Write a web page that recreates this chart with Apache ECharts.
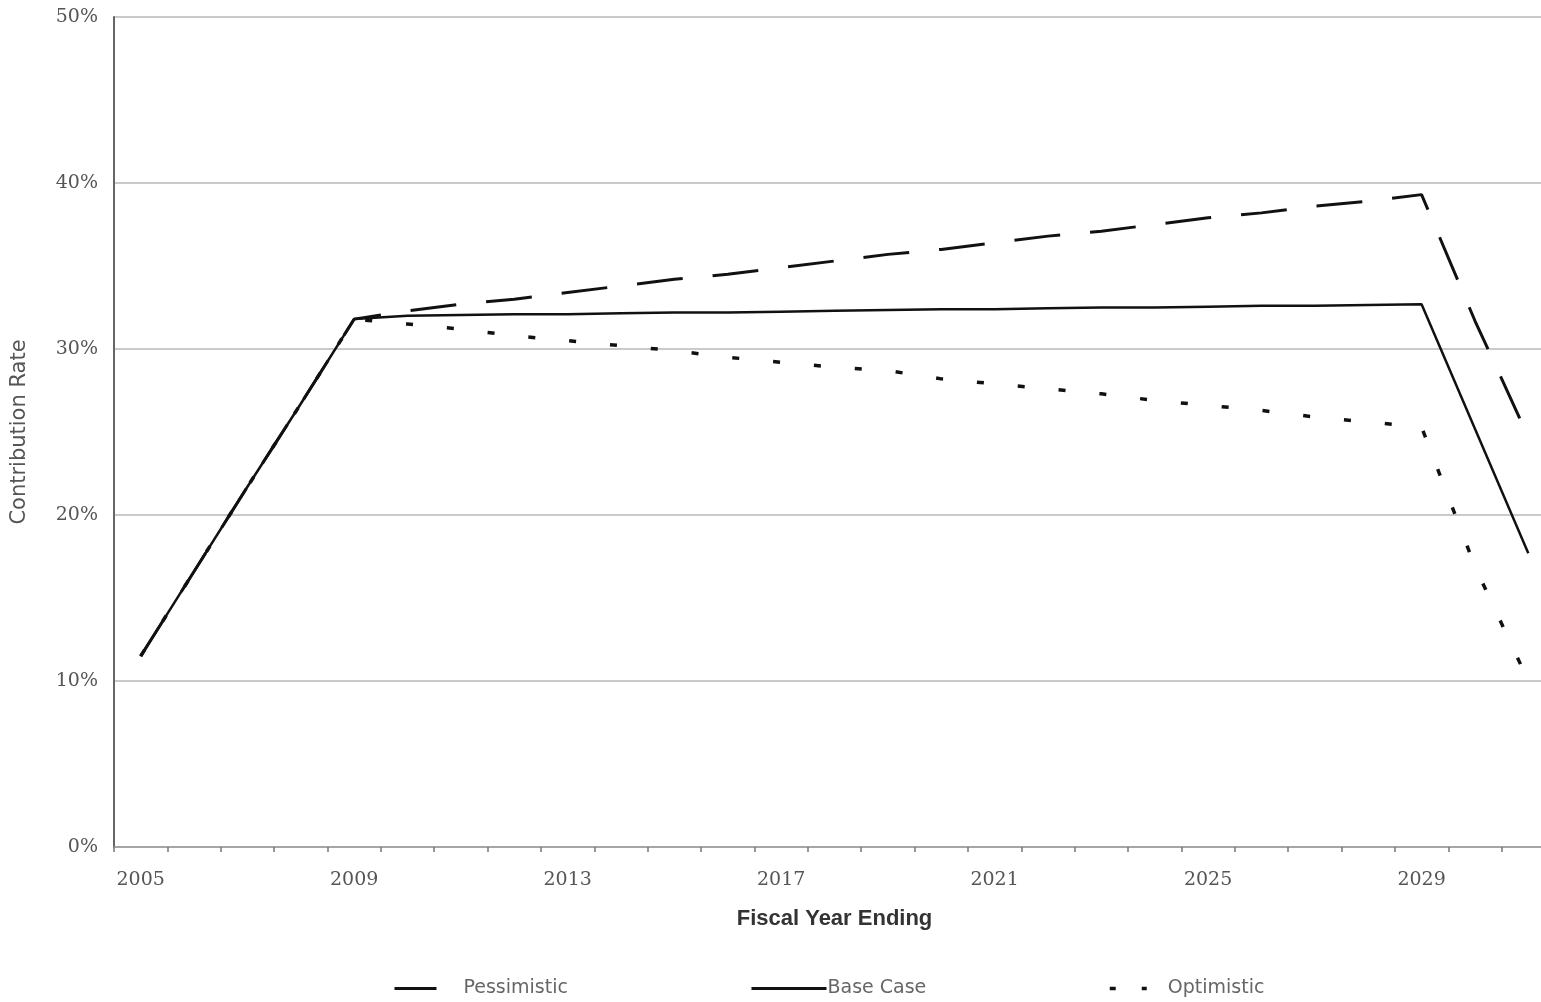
<!DOCTYPE html>
<html>
<head>
<meta charset="utf-8">
<script src="https://cdn.jsdelivr.net/npm/echarts@6/dist/echarts.min.js"></script>
<style>
html,body{margin:0;padding:0;background:#fff;}
#chart{width:1541px;height:1002px;}
</style>
</head>
<body>
<div id="chart"></div>
<script>
var years = ['2005','2006','2007','2008','2009','2010','2011','2012','2013','2014','2015','2016','2017','2018','2019','2020','2021','2022','2023','2024','2025','2026','2027','2028','2029','2030','2031'];
var pessimistic = [11.5,16.6,21.7,26.7,31.8,32.3,32.7,33.0,33.4,33.8,34.2,34.5,34.9,35.3,35.7,36.0,36.4,36.8,37.1,37.5,37.9,38.2,38.6,38.9,39.3,31.7,24.7];
var baseCase    = [11.5,16.6,21.7,26.7,31.8,32.0,32.05,32.1,32.1,32.15,32.2,32.2,32.25,32.3,32.35,32.4,32.4,32.45,32.5,32.5,32.55,32.6,32.6,32.65,32.7,25.2,17.7];
var optimistic  = [11.5,16.6,21.7,26.7,31.8,31.5,31.2,30.8,30.5,30.2,29.9,29.5,29.2,28.9,28.7,28.2,27.9,27.6,27.3,26.9,26.6,26.3,25.9,25.6,25.3,16.9,10.0];
var yTicks = [0,10,20,30,40,50];

var chart = echarts.init(document.getElementById('chart'));
var labelFont = {fontFamily:'DejaVu Serif', fontSize:19, color:'#555'};
var legendText = {fontFamily:'DejaVu Sans', fontSize:19, color:'#666'};
var hideSym = {opacity:0, color:'#111'};
chart.setOption({
  backgroundColor:'#ffffff',
  animation:false,
  grid:{left:114, right:-14, top:17, bottom:155, containLabel:false, outerBoundsMode:'none'},
  legend:[
    {data:['Pessimistic'], left:388, top:974, itemWidth:42, itemHeight:14, itemStyle:hideSym,
     lineStyle:{width:3, type:'solid'}, textStyle:Object.assign({padding:[0,0,0,22]}, legendText)},
    {data:['Base Case'], left:745, top:974, itemWidth:75, itemHeight:14, itemStyle:hideSym,
     lineStyle:{width:3}, textStyle:Object.assign({padding:[0,0,0,-4]}, legendText)},
    {data:['Optimistic'], left:1103, top:974, itemWidth:37, itemHeight:14, itemStyle:hideSym,
     lineStyle:{width:3.5, type:[6,26]}, textStyle:Object.assign({padding:[0,0,0,16]}, legendText)}
  ],
  xAxis:{
    type:'category', data:years, boundaryGap:true,
    name:'Fiscal Year Ending', nameLocation:'middle', nameGap:61,
    nameTextStyle:{fontFamily:'Liberation Sans', fontWeight:'bold', fontSize:22, color:'#333'},
    axisLine:{lineStyle:{color:'#999', width:1.5}},
    axisTick:{show:true, interval:0, length:5, lineStyle:{color:'#777', width:1.5}},
    axisLabel:Object.assign({interval:3, margin:24}, labelFont),
    splitLine:{show:false}
  },
  yAxis:{
    type:'value', min:yTicks[0], max:yTicks[yTicks.length-1], interval:10,
    name:'Contribution Rate', nameLocation:'middle', nameGap:84, nameRotate:90,
    nameTextStyle:{fontFamily:'DejaVu Sans', fontSize:21, color:'#555'},
    axisLine:{show:true, lineStyle:{color:'#666', width:2}},
    axisTick:{show:false},
    axisLabel:Object.assign({margin:16, formatter:'{value}%'}, labelFont),
    splitLine:{show:true, lineStyle:{color:'#b8b8b8', width:1.5}}
  },
  series:[
    {name:'Pessimistic', type:'line', data:pessimistic, symbol:'none', z:3,
     lineStyle:{color:'#111', width:3, type:[46,30]}, itemStyle:{color:'#111'}},
    {name:'Base Case', type:'line', data:baseCase, symbol:'none', z:4,
     lineStyle:{color:'#111', width:2.5, type:'solid'}, itemStyle:{color:'#111'}},
    {name:'Optimistic', type:'line', data:optimistic, symbol:'none', z:2,
     lineStyle:{color:'#111', width:3.5, type:[7,34]}, itemStyle:{color:'#111'}}
  ]
});
</script>
</body>
</html>
